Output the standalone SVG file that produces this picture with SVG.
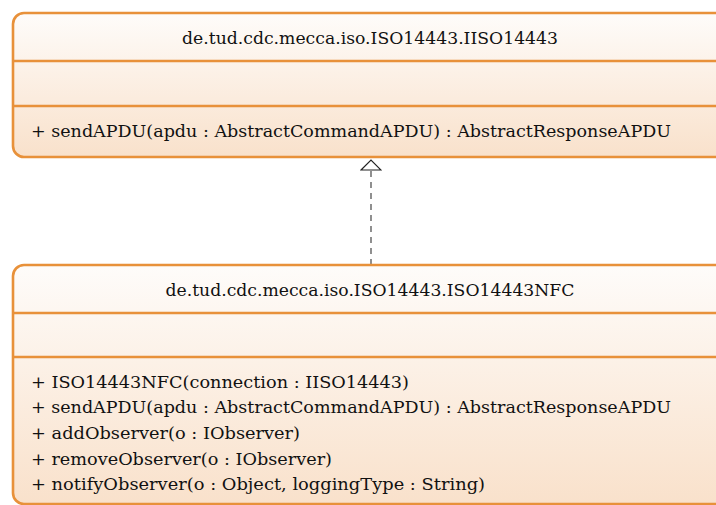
<svg xmlns="http://www.w3.org/2000/svg" width="716" height="505" viewBox="0 0 716 505">
  <defs>
    <linearGradient id="boxFill" x1="0" y1="0" x2="0" y2="1">
      <stop offset="0" stop-color="#fefcfa"/>
      <stop offset="1" stop-color="#f9e1cb"/>
    </linearGradient>
    <marker id="realize" markerWidth="12" markerHeight="22" refX="11" refY="11" orient="auto" markerUnits="userSpaceOnUse" viewBox="0 0 12 22">
      <path d="M1,1 L11,11 L1,21 Z" fill="#ffffff" stroke="#222" stroke-width="1.2"/>
    </marker>
    <style>
      .box { fill: url(#boxFill); stroke: #e8913a; stroke-width: 2.6; }
      .sep { stroke: #e8913a; stroke-width: 2.6; }
      .t { font-family: "DejaVu Serif", "Liberation Serif", serif; font-size: 17.5px; fill: #111; }
      .title { text-anchor: middle; }
      .conn { stroke: #555; stroke-width: 1.3; stroke-dasharray: 6 5; fill: none; }
    </style>
  </defs>

  <g id="connectors">
    <line class="conn" x1="371" y1="265" x2="371" y2="160" marker-end="url(#realize)"/>
  </g>

  <g id="IISO14443">
    <rect class="box" x="13" y="13" width="716" height="144" rx="11"/>
    <line class="sep" x1="13" y1="61" x2="716" y2="61"/>
    <line class="sep" x1="13" y1="106" x2="716" y2="106"/>
    <text class="t title" x="370" y="44" textLength="376" lengthAdjust="spacingAndGlyphs">de.tud.cdc.mecca.iso.ISO14443.IISO14443</text>
    <text class="t" x="31" y="137" textLength="640" lengthAdjust="spacingAndGlyphs">+ sendAPDU(apdu : AbstractCommandAPDU) : AbstractResponseAPDU</text>
  </g>

  <g id="ISO14443NFC">
    <rect class="box" x="13" y="265" width="716" height="239" rx="11"/>
    <line class="sep" x1="13" y1="313" x2="716" y2="313"/>
    <line class="sep" x1="13" y1="357" x2="716" y2="357"/>
    <text class="t title" x="370" y="296" textLength="409" lengthAdjust="spacingAndGlyphs">de.tud.cdc.mecca.iso.ISO14443.ISO14443NFC</text>
    <text class="t" x="31" y="388" textLength="378" lengthAdjust="spacingAndGlyphs">+ ISO14443NFC(connection : IISO14443)</text>
    <text class="t" x="31" y="413" textLength="640" lengthAdjust="spacingAndGlyphs">+ sendAPDU(apdu : AbstractCommandAPDU) : AbstractResponseAPDU</text>
    <text class="t" x="31" y="439" textLength="269" lengthAdjust="spacingAndGlyphs">+ addObserver(o : IObserver)</text>
    <text class="t" x="31" y="465" textLength="301" lengthAdjust="spacingAndGlyphs">+ removeObserver(o : IObserver)</text>
    <text class="t" x="31" y="490" textLength="454" lengthAdjust="spacingAndGlyphs">+ notifyObserver(o : Object, loggingType : String)</text>
  </g>
</svg>
